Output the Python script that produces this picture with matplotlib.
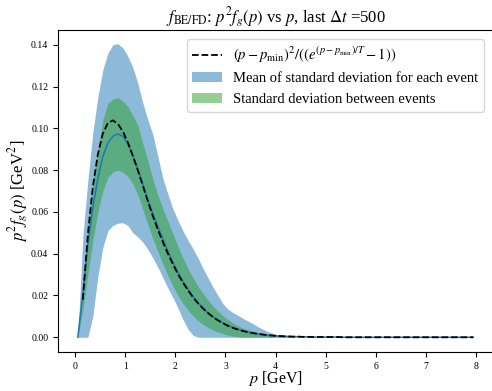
import numpy as np
import matplotlib
matplotlib.use("Agg")
import matplotlib.pyplot as plt

plt.rcParams['font.family'] = ['Liberation Serif', 'DejaVu Serif']
plt.rcParams['mathtext.fontset'] = 'stix'

# momentum grid [GeV]
p = [0.05, 0.15, 0.25, 0.35, 0.45, 0.55, 0.65, 0.75, 0.85, 0.95,
     1.05, 1.15, 1.25, 1.35, 1.45, 1.55, 1.65, 1.75, 1.85, 1.95,
     2.05, 2.15, 2.25, 2.35, 2.45, 2.55, 2.65, 2.75, 2.85, 2.95,
     3.05, 3.15, 3.25, 3.35, 3.45, 3.55, 3.65, 3.75, 3.85, 3.95,
     4.05, 4.15, 4.25, 4.35, 4.45, 4.55, 4.65, 4.75, 4.85, 4.95,
     5.05, 5.15, 5.25, 5.35, 5.45, 5.55, 5.65, 5.75, 5.85, 5.95,
     6.05, 6.15, 6.25, 6.35, 6.45, 6.55, 6.65, 6.75, 6.85, 6.95,
     7.05, 7.15, 7.25, 7.35, 7.45, 7.55, 7.65, 7.75, 7.85, 7.95]

# analytic curve (first point undefined)
theory = [np.nan, 0.018, 0.049, 0.072, 0.0875, 0.0975, 0.1025, 0.1038, 0.1022, 0.0985,
          0.0932, 0.0868, 0.0798, 0.0725, 0.0650, 0.0580, 0.0515, 0.0455, 0.0400, 0.0350,
          0.0303, 0.0262, 0.0225, 0.0192, 0.0163, 0.0138, 0.0116, 0.0097, 0.0081, 0.0067,
          0.0055, 0.0045, 0.0037, 0.0030, 0.0024, 0.0020, 0.0016, 0.0013, 0.0010, 0.0008,
          0.0006, 0.0005, 0.0004, 0.0003, 0.0003, 0.0002, 0.0002, 0.0001, 0.0001, 0.0001,
          0.0001, 0.0001, 0.0001, 0.0, 0.0, 0.0, 0.0, 0.0, 0.0, 0.0,
          0.0, 0.0, 0.0, 0.0, 0.0, 0.0, 0.0, 0.0, 0.0, 0.0,
          0.0, 0.0, 0.0, 0.0, 0.0, 0.0, 0.0, 0.0, 0.0, 0.0]

# mean over events
mean = [0.0, 0.021, 0.044, 0.062, 0.076, 0.0865, 0.093, 0.0962, 0.0973, 0.0962,
        0.0925, 0.0870, 0.0805, 0.0733, 0.0658, 0.0590, 0.0528, 0.0470, 0.0412, 0.0358,
        0.0310, 0.0268, 0.0230, 0.0196, 0.0166, 0.0140, 0.0117, 0.0098, 0.0082, 0.0068,
        0.0056, 0.0046, 0.0038, 0.0031, 0.0025, 0.0020, 0.0016, 0.0013, 0.0010, 0.0008,
        0.0006, 0.0005, 0.0004, 0.0003, 0.0003, 0.0002, 0.0002, 0.0001, 0.0001, 0.0001,
        0.0001, 0.0001, 0.0001, 0.0, 0.0, 0.0, 0.0, 0.0, 0.0, 0.0,
        0.0, 0.0, 0.0, 0.0, 0.0, 0.0, 0.0, 0.0, 0.0, 0.0,
        0.0, 0.0, 0.0, 0.0, 0.0, 0.0, 0.0, 0.0, 0.0, 0.0]

# band: mean of standard deviation for each event
std_mean_hi = [0.0, 0.048, 0.075, 0.098, 0.115, 0.128, 0.136, 0.1400, 0.1405, 0.1385,
               0.1345, 0.1290, 0.1215, 0.1120, 0.1040, 0.0970, 0.0865, 0.0760, 0.0685, 0.0615,
               0.0560, 0.0510, 0.0465, 0.0425, 0.0380, 0.0330, 0.0285, 0.0240, 0.0200, 0.0160,
               0.0135, 0.0118, 0.0105, 0.0090, 0.0078, 0.0065, 0.0050, 0.0038, 0.0027, 0.0018,
               0.0011, 0.0007, 0.0004, 0.0003, 0.0002, 0.0001, 0.0001, 0.0001, 0.0, 0.0,
               0.0, 0.0, 0.0, 0.0, 0.0, 0.0, 0.0, 0.0, 0.0, 0.0,
               0.0, 0.0, 0.0, 0.0, 0.0, 0.0, 0.0, 0.0, 0.0, 0.0,
               0.0, 0.0, 0.0, 0.0, 0.0, 0.0, 0.0, 0.0, 0.0, 0.0]
std_mean_lo = [0.0, 0.0, 0.0, 0.010, 0.029, 0.043, 0.051, 0.0535, 0.0546, 0.0548,
               0.0535, 0.0500, 0.0480, 0.0455, 0.0420, 0.0380, 0.0335, 0.0285, 0.0235, 0.0190,
               0.0140, 0.0085, 0.0040, 0.0010, 0.0, 0.0, 0.0, 0.0, 0.0, 0.0,
               0.0, 0.0, 0.0, 0.0, 0.0, 0.0, 0.0, 0.0, 0.0, 0.0,
               0.0, 0.0, 0.0, 0.0, 0.0, 0.0, 0.0, 0.0, 0.0, 0.0,
               0.0, 0.0, 0.0, 0.0, 0.0, 0.0, 0.0, 0.0, 0.0, 0.0,
               0.0, 0.0, 0.0, 0.0, 0.0, 0.0, 0.0, 0.0, 0.0, 0.0,
               0.0, 0.0, 0.0, 0.0, 0.0, 0.0, 0.0, 0.0, 0.0, 0.0]

# band: standard deviation between events
std_ev_hi = [0.0, 0.025, 0.052, 0.074, 0.090, 0.1040, 0.1120, 0.1140, 0.1147, 0.1130,
             0.1105, 0.1060, 0.1015, 0.0925, 0.0845, 0.0755, 0.0680, 0.0615, 0.0555, 0.0495,
             0.0435, 0.0380, 0.0330, 0.0285, 0.0245, 0.0210, 0.0178, 0.0150, 0.0125, 0.0103,
             0.0085, 0.0068, 0.0055, 0.0044, 0.0036, 0.0029, 0.0023, 0.0018, 0.0014, 0.0011,
             0.0008, 0.0006, 0.0004, 0.0002, 0.0001, 0.0001, 0.0, 0.0, 0.0, 0.0,
             0.0, 0.0, 0.0, 0.0, 0.0, 0.0, 0.0, 0.0, 0.0, 0.0,
             0.0, 0.0, 0.0, 0.0, 0.0, 0.0, 0.0, 0.0, 0.0, 0.0,
             0.0, 0.0, 0.0, 0.0, 0.0, 0.0, 0.0, 0.0, 0.0, 0.0]
std_ev_lo = [0.0, 0.013, 0.030, 0.046, 0.060, 0.070, 0.0765, 0.0790, 0.0800, 0.0790,
             0.0770, 0.0735, 0.0680, 0.0610, 0.0540, 0.0470, 0.0410, 0.0350, 0.0295, 0.0245,
             0.0200, 0.0162, 0.0130, 0.0103, 0.0080, 0.0062, 0.0047, 0.0035, 0.0025, 0.0017,
             0.0010, 0.0005, 0.0002, 0.0, 0.0, 0.0, 0.0, 0.0, 0.0, 0.0,
             0.0, 0.0, 0.0, 0.0, 0.0, 0.0, 0.0, 0.0, 0.0, 0.0,
             0.0, 0.0, 0.0, 0.0, 0.0, 0.0, 0.0, 0.0, 0.0, 0.0,
             0.0, 0.0, 0.0, 0.0, 0.0, 0.0, 0.0, 0.0, 0.0, 0.0,
             0.0, 0.0, 0.0, 0.0, 0.0, 0.0, 0.0, 0.0, 0.0, 0.0]

fig = plt.figure(figsize=(4.92, 3.91), dpi=100)
ax = fig.add_axes([0.118, 0.100, 0.884, 0.823])

ax.fill_between(p, std_mean_lo, std_mean_hi, color='C0', alpha=0.5, lw=0,
                label='Mean of standard deviation for each event')
ax.fill_between(p, std_ev_lo, std_ev_hi, color='C2', alpha=0.5, lw=0,
                label='Standard deviation between events')
ax.plot(p, mean, color='C0', lw=1.1)
ax.plot(p, theory, 'k--', lw=1.3,
        label=r'$(p-p_{\rm min})^2/((e^{(p-p_{\rm min})/T}-1))$')

ax.set_ylim(-0.007, 0.147)
ax.set_xlim(-0.345, 8.345)
ax.set_xticks(range(9))
ax.set_yticks(np.arange(0, 0.141, 0.02))
ax.yaxis.set_major_formatter(matplotlib.ticker.FormatStrFormatter('%.2f'))
ax.tick_params(labelsize=7)

ax.set_xlabel(r'$p$ [GeV]', fontsize=11.5, labelpad=-1)
ax.set_ylabel(r'$p^2 f_g(p)$ [GeV$^2$]', fontsize=12, labelpad=1)
ax.set_title(r'$f_{\rm BE/FD}$: $p^2 f_g(p)$ vs $p$, last $\Delta t$ =500', fontsize=12)

h, l = ax.get_legend_handles_labels()
order = [2, 0, 1]
ax.legend([h[i] for i in order], [l[i] for i in order], loc='upper right', fontsize=10.5,
          borderaxespad=0.6)

fig.savefig('out.png', dpi=100)
